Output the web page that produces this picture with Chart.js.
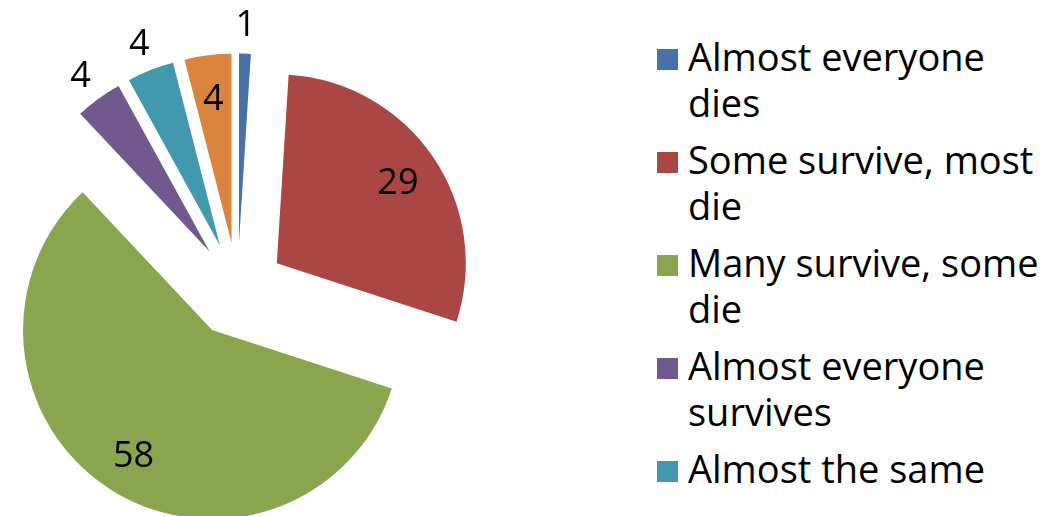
<!DOCTYPE html>
<html>
<head>
<meta charset="utf-8">
<script src="https://cdn.jsdelivr.net/npm/chart.js@4.4.1/dist/chart.umd.min.js"></script>
<style>
  html, body { margin: 0; padding: 0; width: 1063px; height: 516px; overflow: hidden; background: #ffffff; }
  #pie { position: absolute; left: 0; top: 0; }
  #legend { position: absolute; left: 657px; top: 34px; margin: 0; padding: 0; list-style: none;
            font-family: "Open Sans", sans-serif; font-size: 38px; line-height: 45.5px; color: #000; }
  #legend li { position: relative; padding-left: 31px; width: 370px; min-height: 91px; margin-bottom: 12px; }
  #legend .sw { position: absolute; left: 0; top: 15px; width: 21px; height: 21px; }
</style>
</head>
<body>
<canvas id="pie" width="475" height="580"></canvas>
<ul id="legend"></ul>
<script>
// ---- data ----
const categories = [
  "Almost everyone dies",
  "Some survive, most die",
  "Many survive, some die",
  "Almost everyone survives",
  "Almost the same",
  "Other"
];
const values = [1, 29, 58, 4, 4, 4];

// ---- styling ----
const colors = ["#4572A7", "#AA4643", "#89A54E", "#71588F", "#4198AF", "#DB843D"];
const labelPlacement = ["outside", "inside", "inside", "outside", "outside", "inside"];
const RADIUS = 189;
const EXPLODE = 47.5;

const explodePlugin = {
  id: 'explode',
  beforeDatasetDraw(chart, args) {
    const ctx = chart.ctx;
    args.meta.data.forEach(arc => {
      const mid = (arc.startAngle + arc.endAngle) / 2;
      ctx.save();
      ctx.translate(Math.cos(mid) * EXPLODE, Math.sin(mid) * EXPLODE);
      arc.draw(ctx);
      ctx.restore();
    });
    return false;
  }
};

const labelPlugin = {
  id: 'sliceLabels',
  afterDatasetsDraw(chart) {
    const ctx = chart.ctx;
    const meta = chart.getDatasetMeta(0);
    const size = 36;
    ctx.save();
    ctx.font = size + 'px "Open Sans", sans-serif';
    ctx.fillStyle = '#000';
    ctx.textAlign = 'center';
    ctx.textBaseline = 'alphabetic';
    meta.data.forEach((arc, i) => {
      const mid = (arc.startAngle + arc.endAngle) / 2;
      const dist = labelPlacement[i] === 'inside'
        ? EXPLODE + arc.outerRadius * 0.775
        : EXPLODE + arc.outerRadius + 30.5;
      const x = arc.x + Math.cos(mid) * dist;
      const y = arc.y + Math.sin(mid) * dist;
      ctx.fillText(String(values[i]), x, y + size * 0.357);
    });
    ctx.restore();
  }
};

new Chart(document.getElementById('pie'), {
  type: 'pie',
  data: {
    labels: categories,
    datasets: [{
      data: values,
      backgroundColor: colors,
      borderWidth: 0
    }]
  },
  options: {
    responsive: false,
    animation: false,
    radius: RADIUS,
    layout: { padding: 0 },
    plugins: {
      legend: { display: false },
      tooltip: { enabled: false }
    }
  },
  plugins: [explodePlugin, labelPlugin]
});

// HTML legend built from the same arrays
const legend = document.getElementById('legend');
categories.forEach((c, i) => {
  const li = document.createElement('li');
  const sw = document.createElement('span');
  sw.className = 'sw';
  sw.style.background = colors[i];
  li.appendChild(sw);
  li.appendChild(document.createTextNode(c));
  legend.appendChild(li);
});
</script>
</body>
</html>
